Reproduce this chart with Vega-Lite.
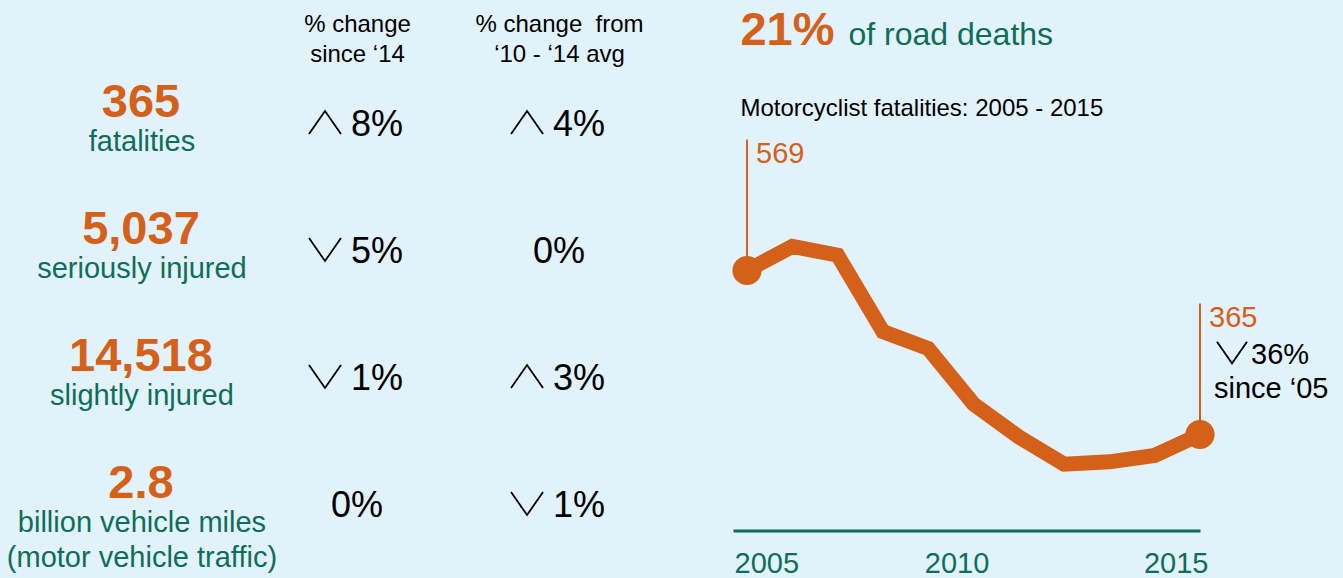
{
  "$schema": "https://vega.github.io/schema/vega-lite/v6.json",
  "background": "#e2f2fa",
  "padding": {"left": 0, "top": 7, "right": 40, "bottom": 40},
  "bounds": "flush",
  "spacing": 19,
  "config": {"view": {"stroke": null}, "font": "Liberation Sans"},
  "datasets": {
    "table": [
      {"metric": "fatalities", "col": "total", "total": "365", "label": "fatalities"},
      {"metric": "seriously injured", "col": "total", "total": "5,037", "label": "seriously injured"},
      {"metric": "slightly injured", "col": "total", "total": "14,518", "label": "slightly injured"},
      {"metric": "traffic", "col": "total", "total": "2.8", "label": "billion vehicle miles|(motor vehicle traffic)"}
    ],
    "changes": [
      {"metric": "fatalities", "col": "since14", "pct": "8%", "dir": "up"},
      {"metric": "fatalities", "col": "avg", "pct": "4%", "dir": "up"},
      {"metric": "seriously injured", "col": "since14", "pct": "5%", "dir": "down"},
      {"metric": "seriously injured", "col": "avg", "pct": "0%", "dir": null},
      {"metric": "slightly injured", "col": "since14", "pct": "1%", "dir": "down"},
      {"metric": "slightly injured", "col": "avg", "pct": "3%", "dir": "up"},
      {"metric": "traffic", "col": "since14", "pct": "0%", "dir": null},
      {"metric": "traffic", "col": "avg", "pct": "1%", "dir": "down"}
    ],
    "fatalities": [
      {"year": 2005, "fatalities": 569},
      {"year": 2006, "fatalities": 599},
      {"year": 2007, "fatalities": 588},
      {"year": 2008, "fatalities": 493},
      {"year": 2009, "fatalities": 472},
      {"year": 2010, "fatalities": 403},
      {"year": 2011, "fatalities": 362},
      {"year": 2012, "fatalities": 328},
      {"year": 2013, "fatalities": 331},
      {"year": 2014, "fatalities": 339},
      {"year": 2015, "fatalities": 365, "change": "36%", "dir": "down", "since": "since ‘05"}
    ],
    "headline": [
      {"share": "21%", "of": "of road deaths", "subtitle": "Motorcyclist fatalities: 2005 - 2015"}
    ]
  },
  "hconcat": [
    {
      "width": 714,
      "height": 508,
      "encoding": {
        "y": {"field": "metric", "type": "nominal", "axis": null, "scale": {"type": "band", "domain": ["fatalities", "seriously injured", "slightly injured", "traffic"], "paddingInner": 0, "paddingOuter": 0}},
        "x": {
          "field": "col", "type": "nominal",
          "scale": {"type": "point", "domain": ["total", "since14", "avg"], "padding": 0.767},
          "axis": {
            "orient": "top", "title": null, "domain": false, "ticks": false, "tickSize": 0,
            "labelPadding": 27.5, "labelFontSize": 24, "labelColor": "#000000", "labelFont": "Liberation Sans",
            "labelLineHeight": 30, "labelAngle": 0, "labelAlign": "center", "labelBaseline": "alphabetic", "labelLimit": 0, "labelOverlap": false,
            "labelExpr": "datum.value == 'since14' ? ['% change', 'since ‘14'] : datum.value == 'avg' ? ['% change\u00a0 from', '‘10 - ‘14 avg'] : ''"
          }
        }
      },
      "layer": [
        {
          "data": {"name": "table"},
          "mark": {"type": "text", "font": "Liberation Sans", "fontWeight": "bold", "fontSize": 47, "color": "#d4601a", "baseline": "alphabetic", "dx": -14, "dy": -6},
          "encoding": {"text": {"field": "total"}}
        },
        {
          "data": {"name": "table"},
          "mark": {"type": "text", "font": "Liberation Sans", "fontSize": 29, "color": "#0e6e57", "baseline": "alphabetic", "dx": -13, "dy": 28, "lineBreak": "|", "lineHeight": 35},
          "encoding": {"text": {"field": "label"}}
        },
        {
          "data": {"name": "changes"},
          "transform": [{"filter": "datum.dir != null"}],
          "mark": {"type": "text", "font": "Liberation Sans", "fontSize": 36, "color": "#000000", "baseline": "alphabetic", "dx": 20, "dy": 13},
          "encoding": {"text": {"field": "pct"}}
        },
        {
          "data": {"name": "changes"},
          "transform": [{"filter": "datum.dir == null"}],
          "mark": {"type": "text", "font": "Liberation Sans", "fontSize": 36, "color": "#000000", "baseline": "alphabetic", "dy": 13},
          "encoding": {"text": {"field": "pct"}}
        },
        {
          "data": {"name": "changes"},
          "transform": [{"filter": "datum.dir != null"}],
          "mark": {"type": "point", "filled": false, "stroke": "#000000", "strokeWidth": 1.8, "opacity": 1, "size": 1024, "xOffset": -32},
          "encoding": {
            "shape": {"field": "dir", "type": "nominal", "legend": null, "scale": {"domain": ["up", "down"], "range": ["M-1,0.72L0,-0.72L1,0.72", "M-1,-0.72L0,0.72L1,-0.72"]}}
          }
        }
      ]
    },
    {
      "width": 467,
      "height": 471.5,
      "layer": [
        {
          "data": {"name": "fatalities"},
          "mark": {"type": "line", "color": "#d4601a", "strokeWidth": 15, "strokeJoin": "miter", "strokeCap": "butt"},
          "encoding": {
            "x": {
              "field": "year", "type": "quantitative",
              "scale": {"domain": [2004.69, 2015.0], "nice": false, "zero": false},
              "axis": {
                "values": [2005, 2010, 2015], "format": "d", "title": null, "grid": false, "ticks": false, "tickSize": 0,
                "domainColor": "#0e6e57", "domainWidth": 3, "labelColor": "#0e6e57", "labelFontSize": 29, "labelFont": "Liberation Sans",
                "labelPadding": 19, "labelFlush": false, "labelOverlap": false,
                "labelAlign": {"condition": [{"test": "datum.value == 2005", "value": "left"}, {"test": "datum.value == 2015", "value": "right"}], "value": "center"},
                "labelOffset": {"condition": [{"test": "datum.value == 2015", "value": 8}, {"test": "datum.value == 2010", "value": -17}], "value": -13}
              }
            },
            "y": {"field": "fatalities", "type": "quantitative", "scale": {"domain": [245.6, 832.1], "nice": false, "zero": false}, "axis": null}
          }
        },
        {
          "data": {"name": "fatalities"},
          "transform": [{"filter": "datum.year == 2005 || datum.year == 2015"}],
          "mark": {"type": "rule", "color": "#d4601a", "strokeWidth": 2, "y2Offset": -131},
          "encoding": {
            "x": {"field": "year", "type": "quantitative"},
            "y": {"field": "fatalities", "type": "quantitative", "axis": null},
            "y2": {"field": "fatalities"}
          }
        },
        {
          "data": {"name": "fatalities"},
          "transform": [{"filter": "datum.year == 2005 || datum.year == 2015"}],
          "mark": {"type": "point", "filled": true, "size": 850, "color": "#d4601a", "opacity": 1, "shape": "circle"},
          "encoding": {
            "x": {"field": "year", "type": "quantitative"},
            "y": {"field": "fatalities", "type": "quantitative", "axis": null}
          }
        },
        {
          "data": {"name": "fatalities"},
          "transform": [{"filter": "datum.year == 2005 || datum.year == 2015"}],
          "mark": {"type": "text", "align": "left", "dx": 9, "dy": -108, "fontSize": 29, "font": "Liberation Sans", "color": "#d4601a", "baseline": "alphabetic"},
          "encoding": {
            "x": {"field": "year", "type": "quantitative"},
            "y": {"field": "fatalities", "type": "quantitative", "axis": null},
            "text": {"field": "fatalities"}
          }
        },
        {
          "data": {"name": "fatalities"},
          "transform": [{"filter": "datum.dir != null"}],
          "mark": {"type": "point", "filled": false, "stroke": "#000000", "strokeWidth": 1.8, "opacity": 1, "size": 900, "xOffset": 32, "yOffset": -82},
          "encoding": {
            "x": {"field": "year", "type": "quantitative"},
            "y": {"field": "fatalities", "type": "quantitative", "axis": null},
            "shape": {"field": "dir", "type": "nominal", "legend": null, "scale": {"domain": ["up", "down"], "range": ["M-1,0.72L0,-0.72L1,0.72", "M-1,-0.72L0,0.72L1,-0.72"]}}
          }
        },
        {
          "data": {"name": "fatalities"},
          "transform": [{"filter": "datum.change != null"}],
          "mark": {"type": "text", "align": "left", "dx": 51, "dy": -71, "fontSize": 29, "font": "Liberation Sans", "color": "#000000", "baseline": "alphabetic"},
          "encoding": {
            "x": {"field": "year", "type": "quantitative"},
            "y": {"field": "fatalities", "type": "quantitative", "axis": null},
            "text": {"field": "change"}
          }
        },
        {
          "data": {"name": "fatalities"},
          "transform": [{"filter": "datum.since != null"}],
          "mark": {"type": "text", "align": "left", "dx": 14, "dy": -37, "fontSize": 29, "font": "Liberation Sans", "color": "#000000", "baseline": "alphabetic"},
          "encoding": {
            "x": {"field": "year", "type": "quantitative"},
            "y": {"field": "fatalities", "type": "quantitative", "axis": null},
            "text": {"field": "since"}
          }
        },
        {
          "data": {"name": "headline"},
          "mark": {"type": "text", "align": "left", "fontSize": 47, "fontWeight": "bold", "font": "Liberation Sans", "color": "#d4601a", "baseline": "alphabetic"},
          "encoding": {
            "x": {"datum": 2004.855, "type": "quantitative"},
            "y": {"datum": 848.9, "type": "quantitative", "axis": null},
            "text": {"field": "share"}
          }
        },
        {
          "data": {"name": "headline"},
          "mark": {"type": "text", "align": "left", "fontSize": 32, "font": "Liberation Sans", "color": "#0e6e57", "baseline": "alphabetic"},
          "encoding": {
            "x": {"datum": 2007.24, "type": "quantitative"},
            "y": {"datum": 848.9, "type": "quantitative", "axis": null},
            "text": {"field": "of"}
          }
        },
        {
          "data": {"name": "headline"},
          "mark": {"type": "text", "align": "left", "fontSize": 24, "font": "Liberation Sans", "color": "#000000", "baseline": "alphabetic"},
          "encoding": {
            "x": {"datum": 2004.855, "type": "quantitative"},
            "y": {"datum": 761.8, "type": "quantitative", "axis": null},
            "text": {"field": "subtitle"}
          }
        }
      ]
    }
  ]
}
